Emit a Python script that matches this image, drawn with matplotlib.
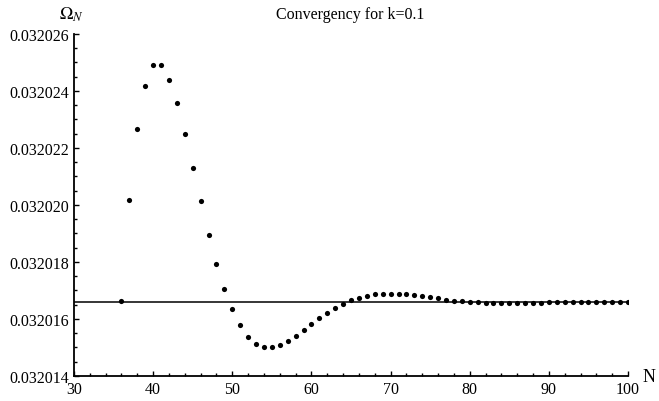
import matplotlib
matplotlib.use("Agg")
from matplotlib import pyplot as plt
from matplotlib.ticker import MultipleLocator, FormatStrFormatter

plt.rcParams["font.family"] = ["Liberation Serif", "DejaVu Serif"]
plt.rcParams["mathtext.fontset"] = "stix"

# points (offset above 0.032014, in units of 1e-6)
n_values = list(range(36, 101))
offsets = [2.63, 6.17, 8.67, 10.18, 10.91, 10.91, 10.39, 9.58, 8.49, 7.30,
           6.14, 4.95, 3.93, 3.05, 2.35, 1.79, 1.37, 1.12, 1.02, 1.02,
           1.09, 1.23, 1.40, 1.61, 1.82, 2.04, 2.21, 2.39, 2.53, 2.67,
           2.74, 2.82, 2.86, 2.88, 2.88, 2.88, 2.87, 2.83, 2.79, 2.76,
           2.72, 2.67, 2.64, 2.62, 2.59, 2.59, 2.57, 2.57, 2.57, 2.57,
           2.57, 2.57, 2.57, 2.57, 2.58, 2.59, 2.59, 2.59, 2.59, 2.59,
           2.59, 2.59, 2.60, 2.60, 2.60]
omega = [0.032014 + o * 1e-6 for o in offsets]
limit_value = 0.0320165966

fig = plt.figure(figsize=(6.59, 4.02), dpi=100)
ax = fig.add_axes([0.1123, 0.0622, 0.8407, 0.8508])

ax.plot([30, 100], [limit_value, limit_value], color="black", lw=1.1)
ax.scatter(n_values, omega, s=14, color="black", linewidths=0, zorder=3)

ax.set_xlim(30, 100)
ax.set_ylim(0.032014, 0.032026)
ax.xaxis.set_major_locator(MultipleLocator(10))
ax.xaxis.set_minor_locator(MultipleLocator(2))
ax.yaxis.set_major_locator(MultipleLocator(2e-6))
ax.yaxis.set_minor_locator(MultipleLocator(0.5e-6))
ax.yaxis.set_major_formatter(FormatStrFormatter("%.6f"))

for side in ["top", "right"]:
    ax.spines[side].set_visible(False)
ax.spines["left"].set_linewidth(1.3)
ax.spines["bottom"].set_linewidth(1.3)
ax.tick_params(which="both", direction="in", labelsize=11.5, width=1)
ax.tick_params(which="major", length=3.5)
ax.tick_params(which="minor", length=2)

fig.text(0.532, 0.962, "Convergency for k=0.1", ha="center", va="center", fontsize=11.5)
fig.text(0.109, 0.963, r"$\Omega_N$", ha="center", va="center", fontsize=13)
fig.text(0.985, 0.062, "N", ha="center", va="center", fontsize=13)

plt.savefig("out.png", dpi=100)
